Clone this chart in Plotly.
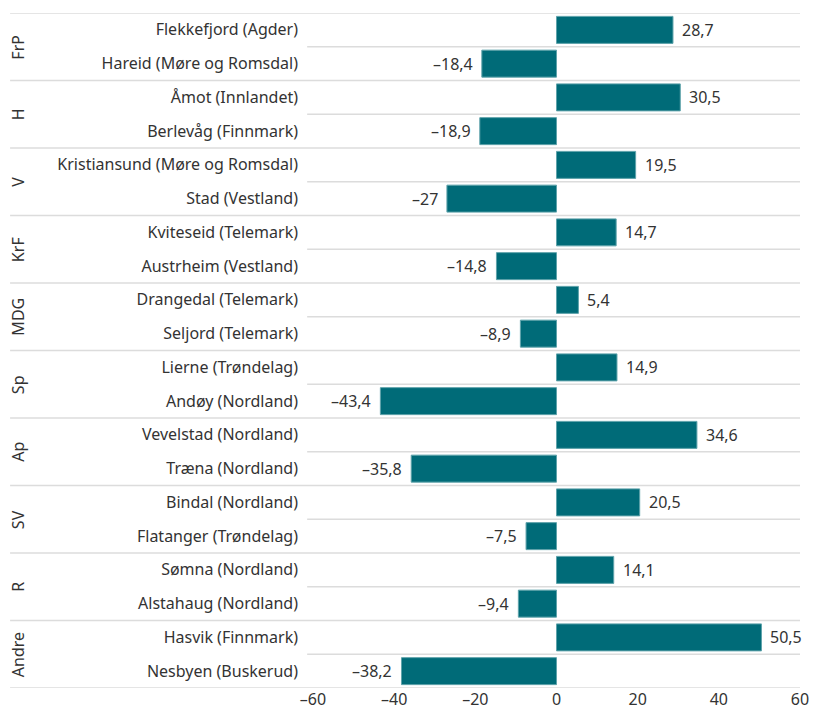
import plotly.graph_objects as go

parties = ["FrP", "H", "V", "KrF", "MDG", "Sp", "Ap", "SV", "R", "Andre"]
municipalities = [
    "Flekkefjord (Agder)", "Hareid (Møre og Romsdal)",
    "Åmot (Innlandet)", "Berlevåg (Finnmark)",
    "Kristiansund (Møre og Romsdal)", "Stad (Vestland)",
    "Kviteseid (Telemark)", "Austrheim (Vestland)",
    "Drangedal (Telemark)", "Seljord (Telemark)",
    "Lierne (Trøndelag)", "Andøy (Nordland)",
    "Vevelstad (Nordland)", "Træna (Nordland)",
    "Bindal (Nordland)", "Flatanger (Trøndelag)",
    "Sømna (Nordland)", "Alstahaug (Nordland)",
    "Hasvik (Finnmark)", "Nesbyen (Buskerud)",
]
changes = [
    28.7, -18.4,
    30.5, -18.9,
    19.5, -27,
    14.7, -14.8,
    5.4, -8.9,
    14.9, -43.4,
    34.6, -35.8,
    20.5, -7.5,
    14.1, -9.4,
    50.5, -38.2,
]
x_ticks = [-60, -40, -20, 0, 20, 40, 60]

BAR = "#006b78"
TEXT = "#333333"
GRID = "#dcdcdc"
FONT = "Noto Sans"
SIZE = 16


def fmt(v):
    s = f"{abs(v):.1f}".rstrip("0").rstrip(".").replace(".", ",")
    return ("\u2013" + s) if v < 0 else s


fig = go.Figure(go.Bar(
    x=changes,
    y=list(range(len(municipalities))),
    orientation="h",
    marker=dict(color=BAR, line=dict(color="#5fa3ab", width=1)),
    width=0.8,
    hoverinfo="skip",
))

annotations = []
for i, v in enumerate(changes):
    annotations.append(dict(
        x=v, y=i, xref="x", yref="y", text=fmt(v), showarrow=False,
        xanchor="left" if v >= 0 else "right",
        xshift=7 if v >= 0 else -7,
        font=dict(size=SIZE, color=TEXT, family=FONT),
    ))

for g, p in enumerate(parties):
    annotations.append(dict(
        x=-0.606, y=2 * g + 0.5, xref="paper", yref="y", text=p,
        showarrow=False, textangle=-90, xanchor="center", yanchor="middle",
        font=dict(size=SIZE, color=TEXT, family=FONT),
    ))

shapes = []
for k in range(len(municipalities) + 1):
    group_line = k % 2 == 0
    shapes.append(dict(
        type="line", xref="paper", yref="y",
        x0=-0.622 if group_line else -0.012, x1=1,
        y0=k - 0.5, y1=k - 0.5,
        line=dict(color=GRID, width=1.5), layer="below",
    ))

fig.update_layout(
    width=815, height=716,
    margin=dict(l=313, r=15, t=13, b=28, autoexpand=False),
    plot_bgcolor="white", paper_bgcolor="white",
    showlegend=False,
    font=dict(family=FONT, size=SIZE, color=TEXT),
    annotations=annotations,
    shapes=shapes,
)
fig.update_xaxes(
    range=[-60, 60], tickvals=x_ticks, ticktext=[fmt(t) for t in x_ticks],
    showgrid=False, zeroline=False, showline=False, ticks="",
    tickfont=dict(size=SIZE, color=TEXT),
)
fig.update_yaxes(
    range=[len(municipalities) - 0.5, -0.5],
    tickvals=list(range(len(municipalities))), ticktext=municipalities,
    showgrid=False, zeroline=False, showline=False, ticks="",
    ticklabelstandoff=14,
    tickfont=dict(size=SIZE, color=TEXT),
)

fig.write_html(
    "out.html",
    config={"displayModeBar": False},
    post_script="document.body.style.margin='0';",
)
